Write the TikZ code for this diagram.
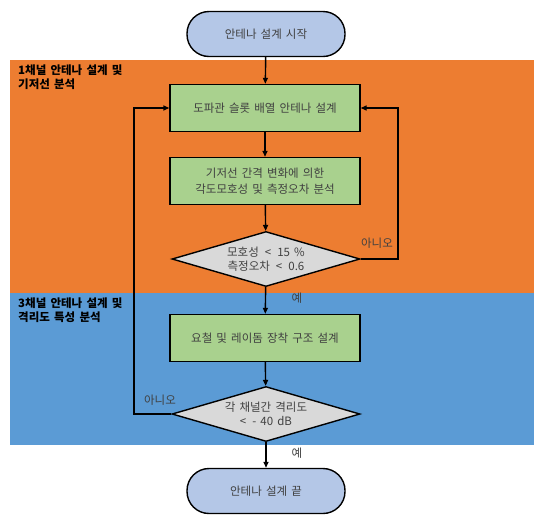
\documentclass[tikz,border=0pt]{standalone}
\usepackage{fontspec}
\setmainfont[WordSpace=1.6]{Noto Sans CJK KR}
\usetikzlibrary{shapes.geometric,arrows.meta}
\definecolor{bandorange}{HTML}{ED7D31}
\definecolor{bandblue}{HTML}{5B9BD5}
\definecolor{boxgreen}{HTML}{A9D18E}
\definecolor{termblue}{HTML}{B4C7E7}
\definecolor{decgray}{HTML}{D9D9D9}
\definecolor{txtgray}{HTML}{404040}
\tikzset{
  terminal/.style={draw=black, line width=1.4pt, fill=termblue, rounded corners=22pt,
    minimum width=158pt, minimum height=45pt, text=txtgray, font=\fontsize{11.5}{14}\selectfont},
  procbox/.style={draw=black, line width=1.4pt, fill=boxgreen, minimum width=190pt,
    minimum height=47pt, align=center, text=txtgray, font=\fontsize{11.5}{16}\selectfont},
  decision/.style={draw=black, line width=1.4pt, fill=decgray, diamond, aspect=3.46,
    inner sep=0pt, minimum width=188pt, minimum height=55pt, align=center, text=txtgray,
    font=\fontsize{11.5}{14}\selectfont},
  flow/.style={line width=1.4pt, -{Triangle[length=6pt,width=5pt]}},
  sectlabel/.style={anchor=north west, align=left, font=\fontsize{11.5}{13.5}\selectfont\bfseries, inner sep=0pt},
  smalllabel/.style={text=txtgray, font=\fontsize{11.5}{14}\selectfont, inner sep=0pt}
}
\begin{document}
\begin{tikzpicture}[x=1pt,y=-1pt]
\useasboundingbox (0,0) rectangle (534,515);
\fill[bandorange] (10,60) rectangle (534,293);
\fill[bandblue] (10,293) rectangle (534,445);
\node[sectlabel] (s1) at (18,65) {1채널 안테나 설계 및\\기저선 분석};
\node[sectlabel] (s2) at (18,298) {3채널 안테나 설계 및\\격리도 특성 분석};

\node[terminal] (start) at (266,34) {안테나 설계 시작};
\node[procbox] (b1) at (265,108) {도파관 슬롯 배열 안테나 설계};
\node[procbox] (b2) at (265,181) {기저선 간격 변화에 의한\\각도모호성 및 측정오차 분석};
\node[decision] (d1) at (266,259) {모호성 \,<\, 15 \%\\측정오차 \,<\, 0.6};
\node[procbox] (b3) at (265,338) {요철 및 레이돔 장착 구조 설계};
\node[decision] (d2) at (266,414) {각 채널간 격리도\\< \,- 40 dB};
\node[terminal] (end) at (266,491) {안테나 설계 끝};

\coordinate (rloop) at (398,259);
\coordinate (lloop) at (134,414);

\draw[flow] (start) -- (b1);
\draw[flow] (b1) -- (b2);
\draw[flow] (b2) -- (d1);
\draw[flow] (d1) -- (b3);
\draw[flow] (b3) -- (d2);
\draw[flow] (d2) -- (end);
\draw[flow] (d1.east) -- (rloop) |- (b1.east);
\draw[flow] (d2.west) -- (lloop) |- (b1.west);

\node[smalllabel] (no1) at (377,243) {아니오};
\node[smalllabel] (no2) at (160,400) {아니오};
\node[smalllabel] (yes1) at (297,298) {예};
\node[smalllabel] (yes2) at (297,453) {예};
\end{tikzpicture}
\end{document}
